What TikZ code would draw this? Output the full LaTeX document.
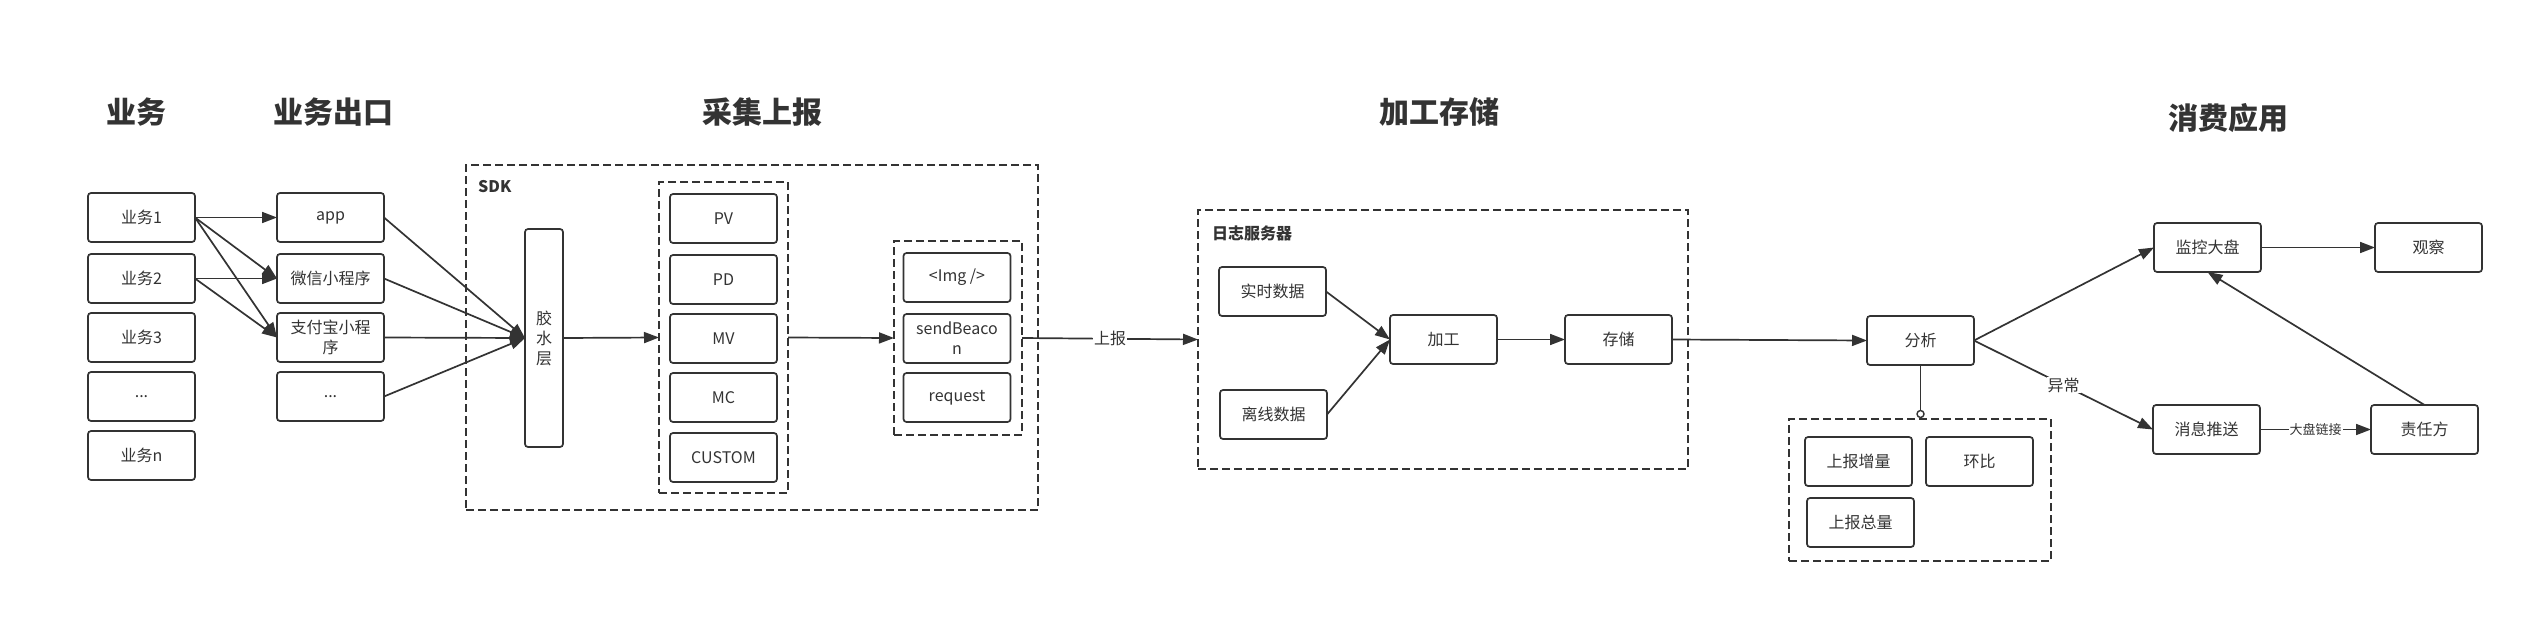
\documentclass[tikz,border=0pt]{standalone}
\usepackage{fontspec}
\setmainfont{Noto Sans CJK SC}
\usetikzlibrary{arrows.meta}
\definecolor{lc}{HTML}{333333}
\tikzset{
  box/.style={draw=lc, line width=1.7pt, rounded corners=3pt, minimum width=107pt, minimum height=49pt,
    inner sep=0pt, outer sep=0pt, font=\fontsize{16}{20}\selectfont, text=lc, align=center, fill=white},
  dbox/.style={draw=lc, line width=1.7pt, dash pattern=on 8pt off 4pt, inner sep=0pt, outer sep=0pt},
  arr/.style={draw=lc, line width=1.7pt, -{Triangle[length=15pt,width=11pt]}},
  plain/.style={draw=lc, line width=1.7pt},
  ttl/.style={font=\fontsize{30}{32}\selectfont\bfseries, text=lc},
  grp/.style={font=\fontsize{16}{18}\selectfont\bfseries, text=lc, anchor=west, inner sep=0pt},
  lbl/.style={fill=white, font=\fontsize{16}{18}\selectfont, text=lc, inner sep=1pt},
  slbl/.style={fill=white, font=\fontsize{13}{15}\selectfont, text=lc, inner sep=1pt}
}
\begin{document}
\begin{tikzpicture}[x=1pt,y=-1pt]
\useasboundingbox[fill=white] (0,0) rectangle (2544,624);

% titles
\node[ttl] (t1) at (136,112) {业务};
\node[ttl] (t2) at (333.5,112) {业务出口};
\node[ttl] (t3) at (762,112) {采集上报};
\node[ttl] (t4) at (1439,112) {加工存储};
\node[ttl] (t5) at (2228,118) {消费应用};

% dashed groups
\node[dbox, minimum width=572pt, minimum height=345pt] (sdk) at (752,337.5) {};
\node[grp] (sdkl) at (478,187) {SDK};
\node[dbox, minimum width=129pt, minimum height=311pt] (g1) at (723.5,337.5) {};
\node[dbox, minimum width=128pt, minimum height=194pt] (g2) at (958,338) {};
\node[dbox, minimum width=490pt, minimum height=259pt] (log) at (1443,339.5) {};
\node[grp] (logl) at (1212,233) {日志服务器};
\node[dbox, minimum width=262pt, minimum height=142pt] (g3) at (1920,490) {};

% business
\node[box] (b1) at (141.5,217.5) {业务1};
\node[box] (b2) at (141.5,278.5) {业务2};
\node[box] (b3) at (141.5,337.5) {业务3};
\node[box] (b4) at (141.5,396.5) {...};
\node[box] (b5) at (141.5,455.5) {业务n};

% outlets
\node[box] (o1) at (330.5,217.5) {app};
\node[box] (o2) at (330.5,278.5) {微信小程序};
\node[box] (o3) at (330.5,337.5) {支付宝小程\\序};
\node[box] (o4) at (330.5,396.5) {...};

% sdk
\node[box, minimum width=38pt, minimum height=218pt] (glue) at (544,338) {胶\\水\\层};
\node[box] (pv) at (723.5,218.5) {PV};
\node[box] (pd) at (723.5,279.5) {PD};
\node[box] (mv) at (723.5,338.5) {MV};
\node[box] (mc) at (723.5,397.5) {MC};
\node[box] (cu) at (723.5,457.5) {CUSTOM};
\node[box] (img) at (957,277.5) {<Img />};
\node[box] (sb) at (957,338.5) {sendBeaco\\n};
\node[box] (rq) at (957,397.5) {request};

% log server
\node[box] (rt) at (1272.5,291.5) {实时数据};
\node[box] (off) at (1273.5,414.5) {离线数据};
\node[box] (proc) at (1443.5,339.5) {加工};
\node[box] (store) at (1618.5,339.5) {存储};

% consumption
\node[box] (ana) at (1920.5,340.5) {分析};
\node[box] (inc) at (1858.5,461.5) {上报增量};
\node[box] (hb) at (1979.5,461.5) {环比};
\node[box] (tot) at (1860.5,522.5) {上报总量};
\node[box] (mon) at (2207.5,247.5) {监控大盘};
\node[box] (obs) at (2428.5,247.5) {观察};
\node[box] (msg) at (2206.5,429.5) {消息推送};
\node[box] (resp) at (2424.5,429.5) {责任方};
\node[circle, draw=lc, line width=1.4pt, fill=white, minimum size=7pt, inner sep=0pt, outer sep=0pt] (oc) at (1920.5,414) {};

% connectors
\draw[arr] (b1.east) -- (o1.west);
\draw[arr] (b1.east) -- (o2.west);
\draw[arr] (b1.east) -- (o3.west);
\draw[arr] (b2.east) -- (o2.west);
\draw[arr] (b2.east) -- (o3.west);
\draw[arr] (o1.east) -- (glue.west);
\draw[arr] (o2.east) -- (glue.west);
\draw[arr] (o3.east) -- (glue.west);
\draw[arr] (o4.east) -- (glue.west);
\draw[arr] (glue.east) -- (g1.west);
\draw[arr] (g1.east) -- (g2.west);
\draw[arr] (g2.east) -- node[lbl] {上报} (log.west);
\draw[arr] (rt.east) -- (proc.west);
\draw[arr] (off.east) -- (proc.west);
\draw[arr] (proc.east) -- (store.west);
\draw[arr] (store.east) -- (ana.west);
\draw[plain] (ana.south) -- (oc.north);
\draw[arr] (ana.east) -- (mon.west);
\draw[arr] (ana.east) -- node[lbl] {异常} (msg.west);
\draw[arr] (mon.east) -- (obs.west);
\draw[arr] (msg.east) -- node[slbl] {大盘链接} (resp.west);
\draw[arr] (resp.north) -- (mon.south);
\end{tikzpicture}
\end{document}
